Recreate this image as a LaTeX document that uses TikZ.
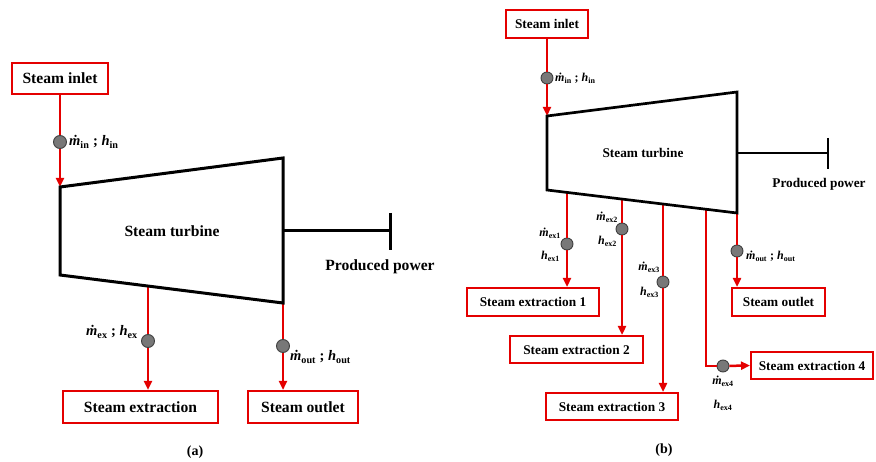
\documentclass[tikz,border=0pt]{standalone}
\usepackage{fontspec}
\setmainfont{Liberation Serif}
\usetikzlibrary{arrows.meta,calc}
\definecolor{flow}{RGB}{228,0,0}
\definecolor{dotgray}{RGB}{120,120,120}
\newcommand\mdot{\textit{\.{m}}}
\newcommand\hh{\textit{h}}
\begin{document}
\begin{tikzpicture}[x=1pt,y=-1pt,
  box/.style={draw=flow,line width=2pt,fill=white,inner sep=0pt,font=\bfseries},
  bigtxt/.style={font=\bfseries\fontsize{15.6}{18}\selectfont},
  smalltxt/.style={font=\bfseries\fontsize{13.3}{15}\selectfont},
  flowarrow/.style={draw=flow,line width=2.5pt,-{Triangle[length=9pt,width=8pt]}},
  flowplain/.style={draw=flow,line width=2.5pt},
  turb/.style={draw=black,line width=3pt,line join=miter},
  probe/.style={circle,draw=black!75,fill=dotgray,line width=0.9pt,inner sep=0pt,minimum size=13pt},
  probeb/.style={probe,minimum size=12pt},
  lbla/.style={inner sep=0pt,font=\bfseries\fontsize{14.5}{16}\selectfont},
  lblb/.style={inner sep=0pt,font=\bfseries\fontsize{12}{14}\selectfont}]
\useasboundingbox (0,0) rectangle (876,462);

% ---------------- panel (a) ----------------
\node[box,bigtxt,minimum width=96pt,minimum height=31pt] (inA) at (60,78.5) {Steam inlet};
\node[box,bigtxt,minimum width=155pt,minimum height=32pt] (exA) at (140.5,407) {Steam extraction};
\node[box,bigtxt,minimum width=110pt,minimum height=32pt] (outA) at (303,407) {Steam outlet};

\coordinate (tA1) at (60,187);
\coordinate (tA2) at (283,158);
\coordinate (tA3) at (283,303);
\coordinate (tA4) at (60,275);
\coordinate (eA) at (148,286);
\coordinate (pwA) at (283,231);
\coordinate (barA) at (390,231);

\node[probe] (pinA) at (60,142) {};
\node[probe] (pexA) at (148,341) {};
\node[probe] (poutA) at (283,346) {};

\draw[flowplain] (inA.south) -- (pinA);
\draw[flowarrow] (pinA) -- (tA1);
\draw[flowplain] (eA) -- (pexA);
\draw[flowarrow] (pexA) -- (pexA |- exA.north);
\draw[flowplain] (tA3) -- (poutA);
\draw[flowarrow] (poutA) -- (poutA |- outA.north);

\draw[turb] (tA1) -- (tA2) -- (tA3) -- (tA4) -- cycle;
\draw[turb] (pwA) -- (barA);
\draw[turb] ($(barA)+(0,-18)$) -- ($(barA)+(0,19)$);

\node[bigtxt] (turbA) at (172,231) {Steam turbine};
\node[bigtxt] (ppA) at (380,267) {Produced power};
\node[lbla,anchor=west] (linA) at (69,142) {\mdot\textsubscript{in} ; \hh\textsubscript{in}};
\node[lbla,anchor=east] (lexA) at (138,332) {\mdot\textsubscript{ex} ; \hh\textsubscript{ex}};
\node[lbla,anchor=west] (loutA) at (290,357) {\mdot\textsubscript{out} ; \hh\textsubscript{out}};
\node[font=\bfseries\fontsize{14}{16}\selectfont] (capA) at (195,452) {(a)};

% ---------------- panel (b) ----------------
\node[box,smalltxt,minimum width=82pt,minimum height=28pt] (inB) at (547,24) {Steam inlet};
\node[box,smalltxt,minimum width=132pt,minimum height=28pt] (ex1) at (533,302) {Steam extraction 1};
\node[box,smalltxt,minimum width=133pt,minimum height=27pt] (ex2) at (576.5,349.5) {Steam extraction 2};
\node[box,smalltxt,minimum width=132pt,minimum height=27pt] (ex3) at (612,406.5) {Steam extraction 3};
\node[box,smalltxt,minimum width=122pt,minimum height=27pt] (ex4) at (812,365.5) {Steam extraction 4};
\node[box,smalltxt,minimum width=93pt,minimum height=28pt] (outB) at (778.5,302) {Steam outlet};

\coordinate (tB1) at (547,116);
\coordinate (tB2) at (737,92);
\coordinate (tB3) at (737,213);
\coordinate (tB4) at (547,190);
\coordinate (e1) at (567,192.4);
\coordinate (e2) at (622,199.1);
\coordinate (e3) at (663,204.0);
\coordinate (e4) at (706,209.2);
\coordinate (c4) at (706,366);
\coordinate (pwB) at (737,153);
\coordinate (barB) at (828,153);

\node[probeb] (pinB) at (547,78) {};
\node[probeb] (p1) at (567,244) {};
\node[probeb] (p2) at (622,229) {};
\node[probeb] (p3) at (663,282) {};
\node[probeb] (p4) at (723,366) {};
\node[probeb] (poutB) at (737,251) {};

\draw[flowplain] (inB.south) -- (pinB);
\draw[flowarrow] (pinB) -- (tB1);
\draw[flowplain] (e1) -- (p1);
\draw[flowarrow] (p1) -- (p1 |- ex1.north);
\draw[flowplain] (e2) -- (p2);
\draw[flowarrow] (p2) -- (p2 |- ex2.north);
\draw[flowplain] (e3) -- (p3);
\draw[flowarrow] (p3) -- (p3 |- ex3.north);
\draw[flowplain] (e4) -- (c4) -- (p4);
\draw[flowarrow] (p4) -- (ex4.west);
\draw[flowplain] (tB3) -- (poutB);
\draw[flowarrow] (poutB) -- (poutB |- outB.north);

\draw[turb,line width=2.7pt] (tB1) -- (tB2) -- (tB3) -- (tB4) -- cycle;
\draw[turb,line width=2.7pt] (pwB) -- (barB);
\draw[turb,line width=2.7pt] ($(barB)+(0,-15)$) -- ($(barB)+(0,16)$);

\node[smalltxt] (turbB) at (643,153) {Steam turbine};
\node[smalltxt] (ppB) at (819,184) {Produced power};
\node[lblb,anchor=west] (linB) at (555,78) {\mdot\textsubscript{in} ; \hh\textsubscript{in}};
\node[lblb,anchor=east] (lm1) at (561,233) {\mdot\textsubscript{ex1}};
\node[lblb,anchor=east] (lh1) at (560,256) {\hh\textsubscript{ex1}};
\node[lblb,anchor=east] (lm2) at (618,217) {\mdot\textsubscript{ex2}};
\node[lblb,anchor=east] (lh2) at (617,241) {\hh\textsubscript{ex2}};
\node[lblb,anchor=east] (lm3) at (660,267) {\mdot\textsubscript{ex3}};
\node[lblb,anchor=east] (lh3) at (659,292) {\hh\textsubscript{ex3}};
\node[lblb] (lm4) at (723,381) {\mdot\textsubscript{ex4}};
\node[lblb] (lh4) at (723,405) {\hh\textsubscript{ex4}};
\node[lblb,anchor=west] (loutB) at (746,256) {\mdot\textsubscript{out} ; \hh\textsubscript{out}};
\node[font=\bfseries\fontsize{14}{16}\selectfont] (capB) at (664,450) {(b)};
\end{tikzpicture}
\end{document}
